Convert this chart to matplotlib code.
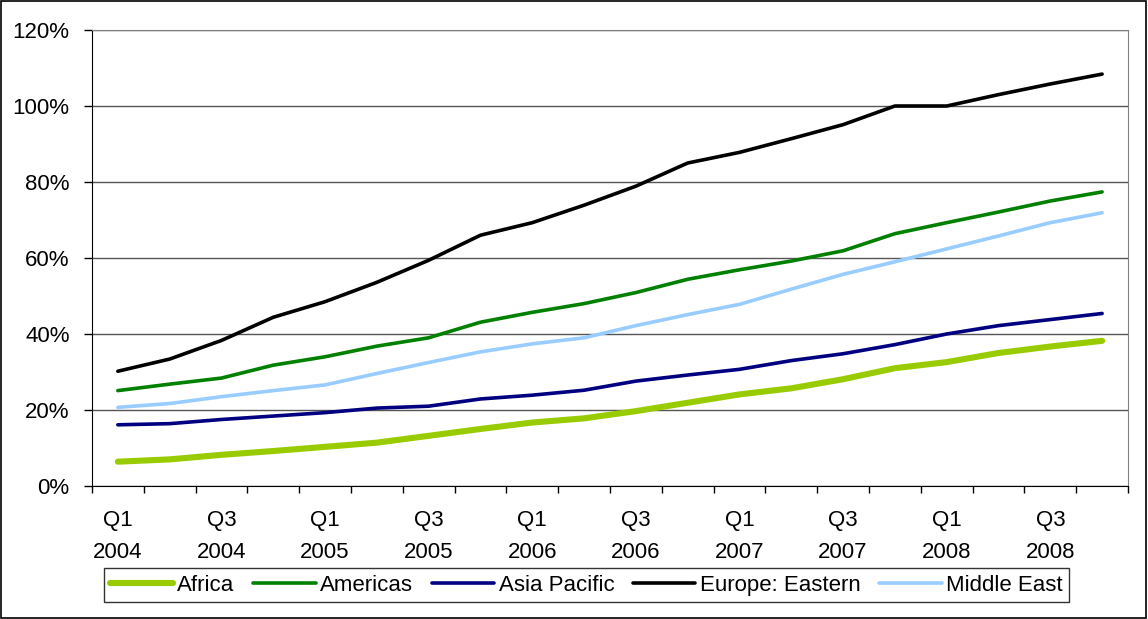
import matplotlib.pyplot as plt
from matplotlib.patches import Rectangle

plt.rcParams["font.family"] = ["Liberation Sans", "DejaVu Sans"]

quarters = [f"Q{q}\n{y}" for y in range(2004, 2009) for q in range(1, 5)]

africa = [6.4, 7.0, 8.2, 9.2, 10.3, 11.4, 13.2, 15.0, 16.7, 17.8,
          19.7, 21.9, 24.1, 25.7, 28.1, 31.0, 32.6, 35.0, 36.7, 38.2]
americas = [25.1, 26.8, 28.4, 31.8, 34.0, 36.8, 39.0, 43.1, 45.7, 48.0,
            50.9, 54.4, 56.9, 59.2, 61.9, 66.4, 69.3, 72.1, 75.0, 77.4]
asia_pacific = [16.1, 16.4, 17.5, 18.4, 19.3, 20.5, 21.0, 22.9, 23.9, 25.2,
                27.6, 29.2, 30.7, 33.0, 34.8, 37.2, 40.0, 42.2, 43.8, 45.4]
europe_eastern = [30.2, 33.4, 38.3, 44.4, 48.5, 53.6, 59.4, 66.0, 69.3, 73.9,
                  78.9, 85.0, 87.8, 91.4, 95.1, 100.0, 100.0, 103.0, 105.8, 108.4]
middle_east = [20.7, 21.7, 23.5, 25.1, 26.6, 29.6, 32.5, 35.3, 37.4, 39.0,
               42.2, 45.1, 47.8, 51.8, 55.7, 59.0, 62.4, 65.8, 69.3, 71.9]

series = [
    ("Africa", africa, "#99cc00", 4.4),
    ("Americas", americas, "#008000", 2.6),
    ("Asia Pacific", asia_pacific, "#000080", 2.6),
    ("Europe: Eastern", europe_eastern, "#000000", 2.6),
    ("Middle East", middle_east, "#99ccff", 2.6),
]

FS = 16

fig = plt.figure(figsize=(11.48, 6.19), dpi=100)
ax = fig.add_axes([0.0801, 0.2149, 0.9025, 0.7366])

x = list(range(len(quarters)))
for name, vals, color, lw in series:
    ax.plot(x, vals, color=color, lw=lw, label=name, solid_capstyle="round")

ax.set_xlim(-0.5, len(quarters) - 0.5)
ax.set_ylim(0, 120)
ax.set_yticks(range(0, 121, 20))
ax.set_yticklabels([f"{v}%" for v in range(0, 121, 20)], fontsize=FS)
ax.yaxis.grid(True, color="#555555", lw=1)
ax.set_axisbelow(True)

# tick marks sit between quarters, labels on every other quarter
ax.set_xticks([i - 0.5 for i in range(len(quarters) + 1)])
ax.set_xticklabels([])
ax.set_xticks(x[::2], minor=True)
ax.set_xticklabels(quarters[::2], minor=True, fontsize=FS, linespacing=1.7)
ax.tick_params(axis="x", which="major", length=5, width=1, direction="out")
ax.tick_params(axis="x", which="minor", length=0, pad=17)
ax.tick_params(axis="y", length=6, width=1, pad=10)

for side in ("top", "right"):
    ax.spines[side].set_color("#808080")
for side in ("left", "bottom"):
    ax.spines[side].set_color("#000000")

leg = fig.legend(loc="center", bbox_to_anchor=(0.511, 0.0545), ncol=5,
                 fontsize=FS, frameon=True, fancybox=False, edgecolor="black",
                 handlelength=2.8, handletextpad=0.2, columnspacing=0.85,
                 borderpad=0.3, borderaxespad=0)
leg.get_frame().set_linewidth(1)

fig.patches.append(Rectangle((0.001, 0.002), 0.997, 0.996, transform=fig.transFigure,
                             fill=False, edgecolor="black", lw=1.2))

fig.savefig("out.png", dpi=100)
